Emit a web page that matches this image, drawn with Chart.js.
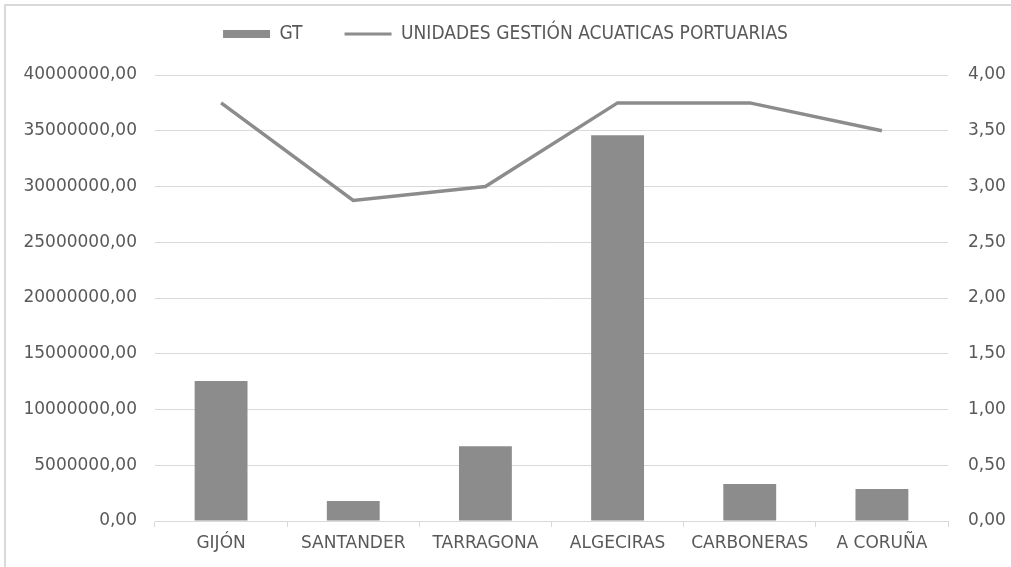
<!DOCTYPE html>
<html>
<head>
<meta charset="utf-8">
<script src="https://cdn.jsdelivr.net/npm/chart.js@4.4.1/dist/chart.umd.min.js"></script>
<style>
  html, body { margin: 0; padding: 0; background: #ffffff; overflow: hidden; width: 1011px; height: 567px; }
  #wrap { position: absolute; left: 0; top: 0; width: 1011px; height: 567px; }
  #frame { position: absolute; left: 4px; top: 4px; width: 1020px; height: 580px;
           border-left: 2px solid #d9d9d9; border-top: 2px solid #d9d9d9; pointer-events: none; }
</style>
</head>
<body>
<div id="wrap"><canvas id="c" width="1011" height="567"></canvas></div>
<div id="frame"></div>
<script>
// Ports on the category axis
const ports = ['GIJÓN', 'SANTANDER', 'TARRAGONA', 'ALGECIRAS', 'CARBONERAS', 'A CORUÑA'];
// Gross tonnage per port (left axis)
const gtValues = [12550000, 1790000, 6700000, 34600000, 3320000, 2870000];
// Port water-management units (right axis)
const unidadesValues = [3.75, 2.875, 3.00, 3.75, 3.75, 3.50];
// Series names
const gtLabel = 'GT';
const unidadesLabel = 'UNIDADES GESTIÓN ACUATICAS PORTUARIAS';
// Axis ranges
const gtAxis = { min: 0, max: 40000000, step: 5000000 };
const unidadesAxis = { min: 0, max: 4, step: 0.5 };

const GREY = '#8c8c8c';
const TEXT = '#595959';
const GRID = '#d9d9d9';
const tickFont = { family: 'DejaVu Sans', size: 17 };

// Spanish style number: two decimals with a comma
const fmt = v => Number(v).toFixed(2).replace('.', ',');

// Gives the legend band a fixed height and places its row
const legendBand = {
  id: 'legendBand',
  beforeLayout(chart) {
    const lg = chart.legend;
    if (lg && !lg._bandPatched) {
      const fit = lg.fit.bind(lg);
      lg.fit = function () { fit(); this.height = 75; };
      lg._bandPatched = true;
    }
  },
  afterLayout(chart) {
    const lg = chart.legend;
    if (!lg) return;
    const pad = lg.options.labels.padding;
    const half = lg.options.labels.font.size / 2;
    lg.top = 34 - half - pad;
    lg.bottom = lg.top + 75;
  }
};

new Chart(document.getElementById('c'), {
  data: {
    labels: ports,
    datasets: [
      {
        type: 'bar',
        label: gtLabel,
        data: gtValues,
        yAxisID: 'yGT',
        backgroundColor: GREY,
        borderWidth: 0,
        categoryPercentage: 1,
        barPercentage: 0.4,
        pointStyle: 'rect',
        order: 2
      },
      {
        type: 'line',
        label: unidadesLabel,
        data: unidadesValues,
        yAxisID: 'yU',
        borderColor: GREY,
        backgroundColor: GREY,
        borderWidth: 3.5,
        pointRadius: 0,
        pointHoverRadius: 0,
        pointStyle: 'line',
        pointBorderColor: GREY,
        pointBackgroundColor: GREY,
        pointBorderWidth: 3,
        tension: 0,
        fill: false,
        order: 1
      }
    ]
  },
  options: {
    responsive: false,
    animation: false,
    devicePixelRatio: 1,
    layout: { padding: 0 },
    plugins: {
      tooltip: { enabled: false },
      legend: {
        position: 'top',
        labels: {
          usePointStyle: true,
          pointStyleWidth: 47,
          boxHeight: 8,
          padding: 42,
          color: TEXT,
          font: { family: "'DejaVu Sans Condensed', 'DejaVu Sans'", size: 19 },
          sort: (a, b) => a.datasetIndex - b.datasetIndex
        }
      }
    },
    scales: {
      x: {
        offset: true,
        grid: { offset: true, drawOnChartArea: false, drawTicks: true, tickLength: 6, color: GRID, lineWidth: 1 },
        border: { display: true, color: GRID, width: 1 },
        ticks: { color: TEXT, font: tickFont, padding: 6, maxRotation: 0, autoSkip: false },
        afterFit(s) { s.height = 46; }
      },
      yGT: {
        position: 'left',
        min: gtAxis.min,
        max: gtAxis.max,
        grid: { color: GRID, lineWidth: 1, drawTicks: false },
        border: { display: false },
        ticks: { stepSize: gtAxis.step, color: TEXT, font: tickFont, padding: 18, callback: fmt },
        afterFit(s) { s.width = 155; }
      },
      yU: {
        position: 'right',
        min: unidadesAxis.min,
        max: unidadesAxis.max,
        grid: { drawOnChartArea: false, drawTicks: false },
        border: { display: false },
        ticks: { stepSize: unidadesAxis.step, color: TEXT, font: tickFont, padding: 20, callback: fmt },
        afterFit(s) { s.width = 63; }
      }
    }
  },
  plugins: [legendBand]
});
</script>
</body>
</html>
